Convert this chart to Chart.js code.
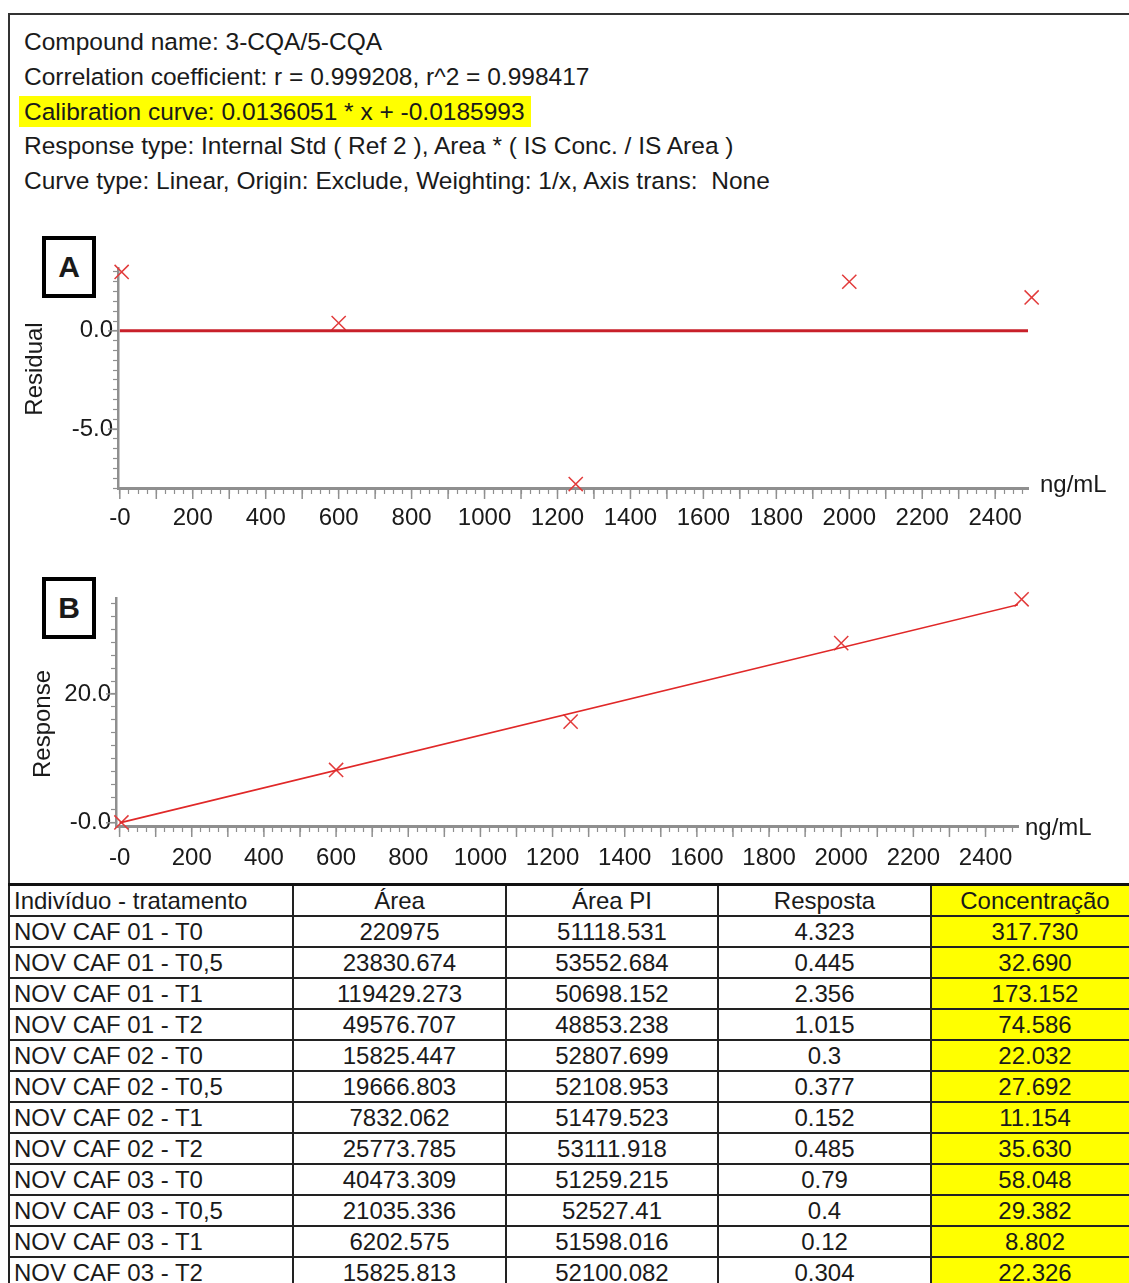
<!DOCTYPE html>
<html>
<head>
<meta charset="utf-8">
<script src="https://cdn.jsdelivr.net/npm/chart.js@4.4.1/dist/chart.umd.min.js"></script>
<style>
  html,body{margin:0;padding:0;background:#fff;overflow:hidden}
  body{width:1129px;height:1283px;position:relative;font-family:"Liberation Sans",Arial,sans-serif;color:#1a1a1a}
  #frame{position:absolute;left:8px;top:13px;width:1130px;height:872px;border-top:2px solid #333;border-left:2px solid #333}
  #info{position:absolute;left:24px;top:25px;font-size:24.5px;line-height:34.8px;white-space:nowrap}
  #info .hl{background:#ffff00;padding:2px 6px 2px 5px;margin-left:-5px}
  .panel{position:absolute;left:0}
  .tag{position:absolute;left:42px;width:46px;height:54px;border:4px solid #000;font:bold 30px "Liberation Sans",Arial,sans-serif;text-align:center;line-height:54px;background:#fff}
  table{position:absolute;left:8px;top:883px;width:1130px;border-collapse:collapse;font-size:24px;table-layout:fixed}
  td{border:2px solid #222;height:29px;padding:0;line-height:27px;text-align:center;white-space:nowrap;overflow:hidden}
  td.name{text-align:left;padding-left:4px}
  tr:first-child td{border-top:3px solid #111}
  td.conc{background:#ffff00}
</style>
</head>
<body>
<div id="frame"></div>
<div id="info">
  <div>Compound name: 3-CQA/5-CQA</div>
  <div>Correlation coefficient: r = 0.999208, r^2 = 0.998417</div>
  <div><span class="hl">Calibration curve: 0.0136051 * x + -0.0185993</span></div>
  <div>Response type: Internal Std ( Ref 2 ), Area * ( IS Conc. / IS Area )</div>
  <div>Curve type: Linear, Origin: Exclude, Weighting: 1/x, Axis trans:&nbsp; None</div>
</div>

<canvas id="residual" class="panel" width="1129" height="310" style="top:230px"></canvas>
<canvas id="response" class="panel" width="1129" height="310" style="top:570px"></canvas>
<div class="tag" style="top:236px">A</div>
<div class="tag" style="top:577px">B</div>

<table id="results"></table>

<script>
// calibration standards (ng/mL)
const stdConc = [5, 600, 1250, 2000, 2500];
const residualPct = [3.0, 0.4, -7.8, 2.5, 1.7];
const responseVal = [0.05, 8.2, 15.7, 27.9, 34.7];

// fitted curve, from the calibration line above
const slope = 0.0136051;
const intercept = -0.0185993;
const fitRange = [0, 2500];

// axis labels
const xTickVals = [0, 200, 400, 600, 800, 1000, 1200, 1400, 1600, 1800, 2000, 2200, 2400];
const xTickText = ['-0', '200', '400', '600', '800', '1000', '1200', '1400', '1600', '1800', '2000', '2200', '2400'];
const residTickVals = [0, -5];
const residTickText = ['0.0', '-5.0'];
const respTickVals = [0, 20];
const respTickText = ['-0.0', '20.0'];

// sample table
const tableHead = ['Indivíduo - tratamento', 'Área', 'Área PI', 'Resposta', 'Concentração'];
const samples = ['NOV CAF 01 - T0', 'NOV CAF 01 - T0,5', 'NOV CAF 01 - T1', 'NOV CAF 01 - T2',
  'NOV CAF 02 - T0', 'NOV CAF 02 - T0,5', 'NOV CAF 02 - T1', 'NOV CAF 02 - T2',
  'NOV CAF 03 - T0', 'NOV CAF 03 - T0,5', 'NOV CAF 03 - T1', 'NOV CAF 03 - T2'];
const area = ['220975', '23830.674', '119429.273', '49576.707', '15825.447', '19666.803',
  '7832.062', '25773.785', '40473.309', '21035.336', '6202.575', '15825.813'];
const areaPI = ['51118.531', '53552.684', '50698.152', '48853.238', '52807.699', '52108.953',
  '51479.523', '53111.918', '51259.215', '52527.41', '51598.016', '52100.082'];
const resposta = ['4.323', '0.445', '2.356', '1.015', '0.3', '0.377',
  '0.152', '0.485', '0.79', '0.4', '0.12', '0.304'];
const concentracao = ['317.730', '32.690', '173.152', '74.586', '22.032', '27.692',
  '11.154', '35.630', '58.048', '29.382', '8.802', '22.326'];

const FONT = '"Liberation Sans", Arial, sans-serif';
const INK = '#1a1a1a';
const AXIS = '#8f8f8f';
const RED = '#e23b3b';

const steps = (from, to, step) => { const out = []; for (let v = from; v <= to + 1e-9; v += step) out.push(+v.toFixed(3)); return out; };

// longer marks on round values, rotated y title, unit label at the end of the x axis
const axisExtras = {
  id: 'axisExtras',
  afterDraw(chart, args, opts) {
    const {ctx, chartArea, scales: {x, y}} = chart;
    ctx.save();
    ctx.strokeStyle = AXIS;
    ctx.lineWidth = 1.5;
    x.ticks.forEach(t => {
      if (t.value % 100 !== 0) return;
      const px = x.getPixelForValue(t.value);
      ctx.beginPath(); ctx.moveTo(px, x.top); ctx.lineTo(px, x.top + 11); ctx.stroke();
    });
    y.ticks.forEach(t => {
      if (!opts.yMajor.includes(t.value)) return;
      const py = y.getPixelForValue(t.value);
      ctx.beginPath(); ctx.moveTo(y.right, py); ctx.lineTo(y.right - 10, py); ctx.stroke();
    });
    ctx.fillStyle = INK;
    ctx.font = '24px ' + FONT;
    ctx.textBaseline = 'middle';
    ctx.fillText('ng/mL', x.right + opts.unitDx, x.top + opts.unitDy);

    ctx.translate(opts.titleX, (chartArea.top + chartArea.bottom) / 2 + opts.titleDy);
    ctx.rotate(-Math.PI / 2);
    ctx.textAlign = 'center';
    ctx.fillText(opts.title, 0, 0);
    ctx.restore();
  }
};

function makeChart(id, cfg) {
  const xScale = {
    type: 'linear', min: cfg.xMin, max: cfg.xMax,
    afterBuildTicks: s => { s.ticks = steps(0, 2500, 25).filter(v => v <= cfg.xMax).map(v => ({value: v})); },
    afterFit: s => { s.height = 45; },
    grid: {display: true, drawOnChartArea: false, tickLength: 6, tickColor: AXIS, tickWidth: 1.2},
    border: {display: true, color: AXIS, width: 3},
    ticks: {
      autoSkip: false, maxRotation: 0, padding: cfg.xPad, color: INK, font: {family: FONT, size: 24},
      callback: v => { const i = xTickVals.indexOf(v); return i < 0 ? '' : xTickText[i]; }
    }
  };
  const yScale = {
    type: 'linear', min: cfg.yMin, max: cfg.yMax,
    afterBuildTicks: s => { s.ticks = cfg.yMinor.map(v => ({value: v})); },
    afterFit: s => { s.width = cfg.yWidth; },
    grid: {display: true, drawOnChartArea: false, tickLength: 5, tickColor: AXIS, tickWidth: 1.2},
    border: {display: true, color: AXIS, width: 2.5},
    ticks: {
      autoSkip: false, padding: 0, color: INK, font: {family: FONT, size: 24},
      callback: v => { const i = cfg.yLabelVals.indexOf(v); return i < 0 ? '' : cfg.yLabelText[i]; }
    }
  };
  return new Chart(document.getElementById(id), {
    type: 'scatter',
    data: {
      datasets: [
        {
          data: fitRange.map(c => ({x: c, y: cfg.fit(c)})),
          showLine: true, pointRadius: 0, borderColor: cfg.lineColor, borderWidth: cfg.lineWidth
        },
        {
          data: stdConc.map((c, i) => ({x: c, y: cfg.values[i]})),
          pointStyle: 'crossRot', pointRadius: 10, borderColor: RED, borderWidth: 1.5, clip: false
        }
      ]
    },
    options: {
      responsive: false, animation: false, devicePixelRatio: 1,
      layout: {padding: cfg.padding},
      plugins: {
        legend: {display: false}, tooltip: {enabled: false},
        axisExtras: {yMajor: cfg.yLabelVals, title: cfg.yTitle, titleX: cfg.titleX, titleDy: cfg.titleDy,
          unitDx: cfg.unitDx, unitDy: cfg.unitDy}
      },
      scales: {x: xScale, y: yScale}
    },
    plugins: [axisExtras]
  });
}

// A: residuals (%)
makeChart('residual', {
  xMin: -5, xMax: 2490, xPad: 10,
  yMin: -8, yMax: 3.2, yMinor: steps(-8, 3, 0.5), yWidth: 118,
  yLabelVals: residTickVals, yLabelText: residTickText,
  yTitle: 'Residual', titleX: 35, titleDy: -9, unitDx: 12, unitDy: -3,
  values: residualPct, fit: () => 0, lineColor: '#c8202a', lineWidth: 3,
  padding: {top: 38, right: 101, bottom: 7, left: 0}
});

// B: response vs concentration with the fitted line
makeChart('response', {
  xMin: -10, xMax: 2490, xPad: 12,
  yMin: -0.5, yMax: 34.9, yMinor: steps(0, 34, 2), yWidth: 116,
  yLabelVals: respTickVals, yLabelText: respTickText,
  yTitle: 'Response', titleX: 43, titleDy: 12, unitDx: 7, unitDy: 2,
  values: responseVal, fit: c => slope * c + intercept, lineColor: '#e02828', lineWidth: 1.6,
  padding: {top: 28, right: 111, bottom: 9, left: 0}
});

// results table (content widths; borders and padding add to them)
const colW = [278, 211, 210, 211, 206];
const tbl = document.getElementById('results');
const addRow = cells => {
  const tr = document.createElement('tr');
  cells.forEach((c, i) => {
    const td = document.createElement('td');
    td.textContent = c;
    td.style.width = colW[i] + 'px';
    if (i === 0) td.className = 'name';
    if (i === 4) td.className = 'conc';
    tr.appendChild(td);
  });
  tbl.appendChild(tr);
};
addRow(tableHead);
samples.forEach((s, i) => addRow([s, area[i], areaPI[i], resposta[i], concentracao[i]]));
</script>
</body>
</html>
